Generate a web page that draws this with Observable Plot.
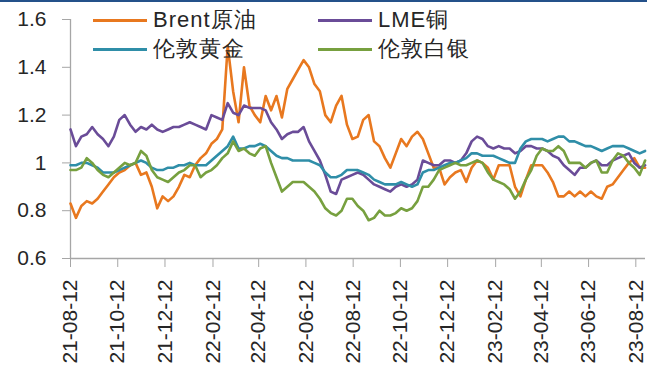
<!DOCTYPE html>
<html>
<head>
<meta charset="utf-8">
<script src="https://cdn.jsdelivr.net/npm/d3@7"></script>
<script src="https://cdn.jsdelivr.net/npm/@observablehq/plot@0.6"></script>
<style>
  html, body { margin: 0; padding: 0; background: #fff; }
  #wrap { position: relative; width: 647px; height: 371px; overflow: hidden; font-family: "Liberation Sans", Arial, sans-serif; }
  #topline { position: absolute; left: 0; top: 0; width: 647px; height: 2px; background: #24518a; }
  .leg { position: absolute; display: flex; align-items: center; font-size: 22px; color: #262626; letter-spacing: 1px; }
  .sw { width: 54px; height: 3px; margin-right: 6px; }
</style>
</head>
<body>
<div id="wrap">
  <div id="chart"></div>
  <div id="topline"></div>
  <div id="legend"></div>
</div>
<script>
// ---- data (weekly readings starting 2021-08-12) ----
const startDate = "2021-08-12";
const seriesNames = ["Brent原油", "LME铜", "伦敦黄金", "伦敦白银"];
const seriesColors = ["#E8781F", "#6A4C98", "#2F8EA8", "#77A03F"];
const xTickLabels = ["21-08-12","21-10-12","21-12-12","22-02-12","22-04-12","22-06-12","22-08-12","22-10-12","22-12-12","23-02-12","23-04-12","23-06-12","23-08-12"];
const yTicks = [0.6, 0.8, 1.0, 1.2, 1.4, 1.6];

const brent = [0.83,0.77,0.82,0.84,0.83,0.85,0.88,0.91,0.94,0.96,0.97,0.99,1.00,0.95,0.96,0.90,0.81,0.86,0.84,0.86,
  0.90,0.95,0.94,0.99,1.02,1.04,1.08,1.10,1.14,1.49,1.30,1.17,1.40,1.24,1.20,1.17,1.28,1.22,1.28,1.19,
  1.31,1.35,1.39,1.43,1.40,1.33,1.30,1.20,1.17,1.24,1.28,1.16,1.10,1.11,1.18,1.20,1.09,1.07,1.02,0.98,
  1.04,1.10,1.07,1.11,1.13,1.10,1.04,0.98,0.98,0.91,0.94,0.96,0.97,0.92,0.98,1.01,1.00,0.98,0.93,0.99,
  0.99,0.99,0.90,0.86,0.93,0.99,0.99,0.99,0.96,0.92,0.86,0.86,0.88,0.86,0.88,0.86,0.88,0.86,0.85,0.90,
  0.91,0.94,0.97,1.00,1.02,0.98,0.98];
const copper = [1.14,1.07,1.11,1.12,1.15,1.12,1.10,1.07,1.11,1.18,1.20,1.16,1.13,1.15,1.14,1.16,1.14,1.13,1.14,1.15,
  1.15,1.16,1.17,1.16,1.15,1.14,1.20,1.19,1.18,1.25,1.21,1.20,1.24,1.23,1.23,1.23,1.22,1.17,1.14,1.10,
  1.12,1.13,1.13,1.15,1.09,1.05,1.01,0.95,0.88,0.87,0.93,0.94,0.95,0.96,0.95,0.93,0.91,0.90,0.89,0.88,
  0.90,0.91,0.90,0.91,0.93,1.01,1.00,0.99,0.99,1.01,1.01,1.00,1.01,1.04,1.09,1.11,1.10,1.07,1.06,1.07,
  1.06,1.06,1.04,1.05,1.07,1.07,1.06,1.06,1.05,1.03,1.02,0.99,0.97,0.95,0.98,0.98,1.00,1.01,0.99,0.99,
  1.01,1.02,1.03,1.04,1.00,0.98,0.99];
const gold = [0.99,0.99,1.00,1.00,0.99,0.98,0.96,0.96,0.96,0.97,0.98,0.99,1.00,1.01,1.00,0.98,0.97,0.97,0.98,0.98,
  0.99,0.99,1.00,0.99,0.99,0.99,1.01,1.03,1.05,1.07,1.11,1.06,1.06,1.07,1.07,1.08,1.07,1.05,1.03,1.02,
  1.02,1.01,1.01,1.01,1.01,1.00,0.99,0.96,0.94,0.94,0.95,0.97,0.97,0.97,0.96,0.95,0.93,0.92,0.91,0.91,
  0.91,0.92,0.91,0.90,0.91,0.96,0.97,0.97,0.98,0.99,1.00,1.00,1.01,1.02,1.04,1.04,1.03,1.03,1.03,1.02,
  1.01,1.00,1.00,1.06,1.09,1.10,1.10,1.10,1.09,1.10,1.11,1.11,1.09,1.09,1.08,1.07,1.07,1.06,1.05,1.06,
  1.07,1.07,1.07,1.06,1.05,1.04,1.05];
const silver = [0.97,0.97,0.98,1.02,1.00,0.97,0.95,0.94,0.96,0.98,1.00,0.99,1.00,1.05,1.03,0.97,0.94,0.93,0.92,0.94,
  0.96,0.97,0.99,0.99,0.94,0.96,0.97,0.99,1.02,1.04,1.09,1.05,1.06,1.04,1.03,1.06,1.07,1.00,0.94,0.88,
  0.90,0.92,0.92,0.92,0.90,0.88,0.85,0.81,0.79,0.78,0.80,0.85,0.85,0.82,0.80,0.76,0.77,0.80,0.78,0.78,
  0.79,0.81,0.80,0.81,0.84,0.90,0.90,0.93,0.97,0.98,0.99,1.00,0.99,0.99,1.00,1.01,1.00,0.96,0.93,0.92,
  0.91,0.89,0.85,0.88,0.93,0.97,1.03,1.06,1.05,1.05,1.07,1.05,1.00,1.00,1.00,0.98,1.00,1.01,0.96,0.96,
  1.01,1.04,1.03,1.00,0.98,0.95,1.01];

// ---- build table ----
const parse = d3.utcParse("%Y-%m-%d");
const t0 = parse(startDate);
const allSeries = [brent, copper, gold, silver];
const rows = [];
allSeries.forEach((vals, k) => {
  vals.forEach((v, i) => rows.push({date: d3.utcDay.offset(t0, 7 * i), value: v, name: seriesNames[k]}));
});
const tickDates = xTickLabels.map(s => d3.utcParse("%y-%m-%d")(s));
const lastDate = d3.utcDay.offset(t0, 7 * (brent.length - 1));
const endDate = new Date(+lastDate + 12 * 3600 * 1000);

const axisColor = "#a6a6a6";
const chart = Plot.plot({
  width: 647,
  height: 371,
  marginLeft: 70,
  marginRight: 2,
  marginTop: 19,
  marginBottom: 113,
  style: {fontFamily: "'Liberation Sans', Arial, sans-serif", background: "transparent"},
  x: {type: "utc", domain: [t0, endDate]},
  y: {domain: [0.6, 1.6]},
  color: {domain: seriesNames, range: seriesColors},
  marks: [
    Plot.axisY({ticks: yTicks, tickFormat: d => String(+d.toFixed(1)), tickSize: 8, tickPadding: 16,
      stroke: axisColor, fill: "#262626", fontSize: 21, label: null}),
    Plot.axisX({ticks: tickDates, tickFormat: d3.utcFormat("%y-%m-%d"), tickRotate: -90, tickSize: 9, tickPadding: 12,
      stroke: axisColor, fill: "#262626", fontSize: 21, label: null}),
    Plot.ruleX([t0], {stroke: axisColor, strokeWidth: 1.3}),
    Plot.ruleY([0.6], {stroke: axisColor, strokeWidth: 1.3}),
    Plot.lineY(rows, {x: "date", y: "value", z: "name", stroke: "name", strokeWidth: 2.6, strokeLinejoin: "round"})
  ]
});
document.getElementById("chart").appendChild(chart);

// ---- legend ----
const legend = document.getElementById("legend");
const legPos = [[93, 20], [318, 20], [93, 49], [318, 49]];
seriesNames.forEach((n, k) => {
  const item = document.createElement("div");
  item.className = "leg";
  item.style.left = legPos[k][0] + "px";
  item.style.top = (legPos[k][1] - 14) + "px";
  item.style.height = "28px";
  const sw = document.createElement("span");
  sw.className = "sw";
  sw.style.background = seriesColors[k];
  const tx = document.createElement("span");
  tx.textContent = n;
  item.appendChild(sw);
  item.appendChild(tx);
  legend.appendChild(item);
});
</script>
</body>
</html>
